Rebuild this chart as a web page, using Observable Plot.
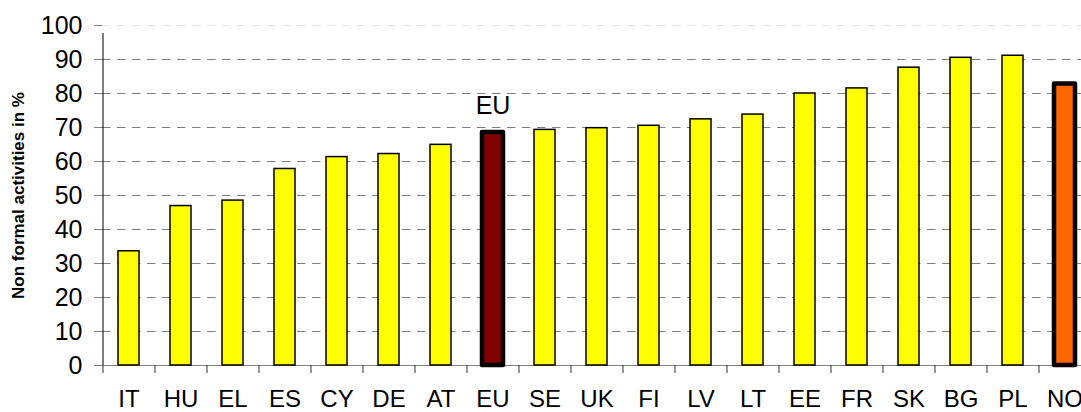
<!DOCTYPE html>
<html>
<head>
<meta charset="utf-8">
<script src="https://cdn.jsdelivr.net/npm/d3@7"></script>
<script src="https://cdn.jsdelivr.net/npm/@observablehq/plot@0.6"></script>
<style>
  html, body { margin: 0; padding: 0; background: #fff; overflow: hidden; }
</style>
</head>
<body>
<div id="chart"></div>
<script>
const countries = ["IT","HU","EL","ES","CY","DE","AT","EU","SE","UK","FI","LV","LT","EE","FR","SK","BG","PL","NO"];
const values = [33.6, 46.9, 48.5, 57.8, 61.3, 62.2, 64.9, 68.5, 69.3, 69.8, 70.5, 72.4, 73.8, 80.0, 81.5, 87.6, 90.5, 91.1, 82.8];
const highlighted = ["EU", "NO"];
const annotated = ["EU"];
const yTicks = [0, 10, 20, 30, 40, 50, 60, 70, 80, 90, 100];
const yLabel = "Non formal activities in %";

const data = countries.map((c, i) => ({country: c, value: values[i]}));
const colors = {EU: "#800000", NO: "#ff6600"};

const W = 1090, H = 412, ML = 102, MR = 0, MT = 25, MB = 47;
const band = (W - ML - MR) / countries.length;
const font = "Arial, 'Liberation Sans', sans-serif";

const chart = Plot.plot({
  width: W, height: H,
  marginLeft: ML, marginRight: MR, marginTop: MT, marginBottom: MB,
  x: {domain: countries, paddingInner: 0.6, paddingOuter: 0.3},
  y: {domain: [0, 100]},
  style: {fontFamily: font, background: "white", maxWidth: "none", overflow: "visible"},
  marks: [
    Plot.ruleY(yTicks.filter(t => t > 0 && t < 100), {stroke: "#7f7f7f", strokeDasharray: "8.5,6.5"}),
    Plot.ruleY(yTicks.filter(t => t === 100), {stroke: "#e4e4e4", strokeDasharray: "8.5,6.5"}),
    Plot.ruleY([0], {stroke: "#808080", insetLeft: -8}),
    Plot.ruleX(countries, {x: d => d, y1: 0, y2: 0, insetBottom: -8, dx: -band / 2, stroke: "#333"}),
    Plot.ruleX([countries[0]], {x: d => d, y1: 0, y2: 100, insetBottom: -8, dx: -band / 2, stroke: "black"}),
    Plot.axisY({ticks: yTicks, tickSize: 8, tickPadding: 12, fontSize: 25, stroke: "#808080", fill: "black", label: null}),
    Plot.axisX({tickSize: 0, tickPadding: 24, fontSize: 24, fill: "black", label: null}),
    Plot.barY(data.filter(d => !highlighted.includes(d.country)), {
      x: "country", y: "value", fill: "#ffff00", stroke: "black", strokeWidth: 1.5
    }),
    Plot.barY(data.filter(d => highlighted.includes(d.country)), {
      x: "country", y: "value", fill: d => colors[d.country], stroke: "black", strokeWidth: 4.5, strokeLinejoin: "round"
    }),
    Plot.text(data.filter(d => annotated.includes(d.country)), {
      x: "country", y: "value", text: "country", lineAnchor: "bottom", dy: -19, fontSize: 25, fill: "black"
    }),
    Plot.text([yLabel], {
      frameAnchor: "left", textAnchor: "middle", rotate: -90, dx: -84, fontWeight: "bold", fontSize: 17, fill: "black"
    })
  ]
});
document.getElementById("chart").appendChild(chart);
</script>
</body>
</html>
